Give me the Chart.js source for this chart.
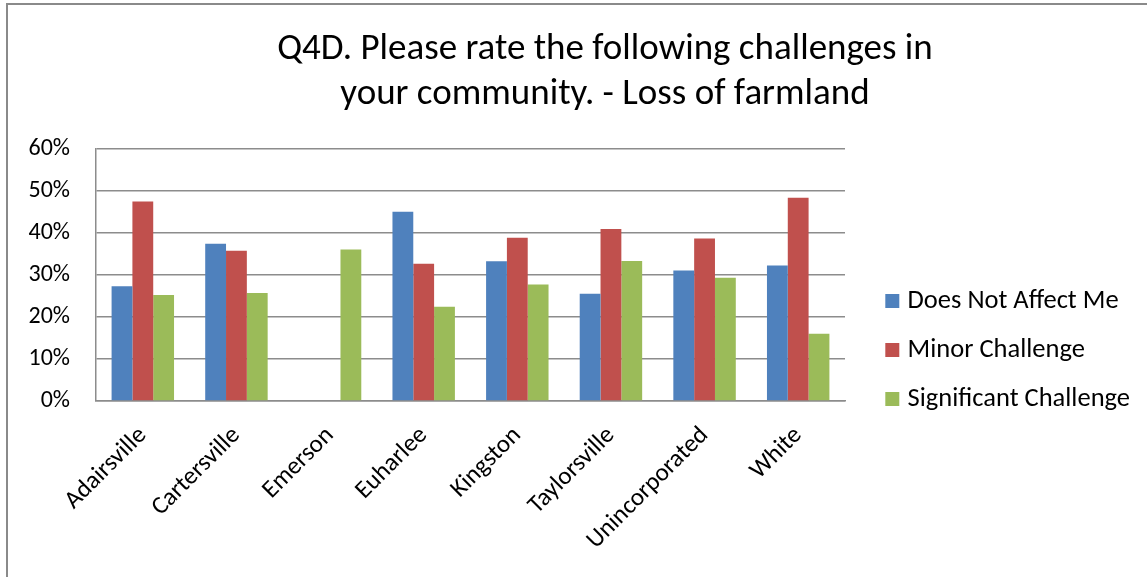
<!DOCTYPE html>
<html lang="en">
<head>
  <meta charset="UTF-8">
  <title>Q4D - Loss of farmland</title>
  <script src="https://cdn.jsdelivr.net/npm/chart.js"></script>
</head>
<style>
  body {
    margin: 0;
    padding: 0;
    background: #fff;
    width: 1147px;
    height: 577px;
    overflow: hidden;
    position: relative;
  }

  /* chart frame, only top and left edges are inside the window */
  .frame {
    position: absolute;
    left: 6px;
    top: 3px;
    width: 1198px;
    height: 690px;
    border: 2px solid #8a8a8a;
    background: #fff;
  }

  .frame canvas {
    display: block;
  }
</style>

<body>
<div class="frame">
  <canvas id="farmChart" width="1198" height="690"></canvas>
</div>

<script>
  const categories = ['Adairsville', 'Cartersville', 'Emerson', 'Euharlee', 'Kingston', 'Taylorsville', 'Unincorporated', 'White'];
  const seriesNames = ['Does Not Affect Me', 'Minor Challenge', 'Significant Challenge'];

  // percent values
  const doesNotAffect = [27.3, 37.4, 0, 45.0, 33.2, 25.5, 31.0, 32.2];
  const minorChallenge = [47.4, 35.7, 0, 32.6, 38.8, 40.9, 38.6, 48.3];
  const significantChallenge = [25.2, 25.7, 36.0, 22.4, 27.7, 33.3, 29.3, 16.0];

  const yTicks = [0, 10, 20, 30, 40, 50, 60];
  const titleLines = ['Q4D. Please rate the following challenges in', 'your community. - Loss of farmland'];

  const colors = ['#4F81BD', '#C0504D', '#9BBB59'];
  const fontFamily = 'Carlito, Lato, sans-serif';
  const gridColor = '#8c8c8c';

  // the title in the original is centred on the whole frame, not the plot,
  // so move its box after layout
  const titleShift = {
    id: 'titleShift',
    afterLayout(chart) {
      const t = chart.titleBlock;
      if (!t) return;
      t.left = 62;
      t.right = 1132;
      t.width = t.right - t.left;
    }
  };

  const ctx = document.getElementById('farmChart').getContext('2d');
  const farmChart = new Chart(ctx, {
    type: 'bar',
    data: {
      labels: categories,
      datasets: [doesNotAffect, minorChallenge, significantChallenge].map((vals, i) => ({
        label: seriesNames[i],
        data: vals,
        backgroundColor: colors[i],
        borderWidth: 0,
        categoryPercentage: 0.667,
        barPercentage: 1.0
      }))
    },
    plugins: [titleShift],
    options: {
      responsive: false,
      animation: false,
      layout: {
        padding: { left: 0, right: 66, top: 0, bottom: 0 }
      },
      plugins: {
        tooltip: { enabled: false },
        title: {
          display: true,
          text: titleLines,
          color: '#000',
          font: { family: fontFamily, size: 37, weight: 'normal', lineHeight: 1.197 },
          padding: { top: 23, bottom: 32 }
        },
        legend: {
          position: 'right',
          maxWidth: 400,
          labels: {
            color: '#000',
            usePointStyle: true,
            pointStyle: 'rect',
            boxWidth: 4,     // narrow slot so the 14px square sits close to the text
            boxHeight: 14,
            padding: 22.5,
            font: { family: fontFamily, size: 26.5 }
          }
        }
      },
      scales: {
        x: {
          grid: { display: false },
          border: { display: true, color: gridColor, width: 1.5 },
          ticks: {
            color: '#000',
            minRotation: 45,
            maxRotation: 45,
            padding: 12,
            font: { family: fontFamily, size: 25 }
          },
          afterFit: (scale) => { scale.height = 294; }
        },
        y: {
          min: yTicks[0],
          max: yTicks[yTicks.length - 1],
          afterBuildTicks: (scale) => { scale.ticks = yTicks.map(v => ({ value: v })); },
          grid: { color: gridColor, lineWidth: 1.5, drawTicks: false },
          border: { display: true, color: gridColor, width: 1.5 },
          ticks: {
            color: '#000',
            padding: 26,
            font: { family: fontFamily, size: 24 },
            callback: (v) => v + '%'
          },
          afterFit: (scale) => { scale.width = 88; }
        },
        // empty axis, only keeps the gap between plot and legend
        gap: {
          position: 'right',
          display: true,
          grid: { display: false },
          border: { display: false },
          ticks: { display: false },
          afterFit: (scale) => {
            const legendW = scale.chart.legend ? scale.chart.legend.width : 0;
            scale.width = Math.max(0, (1198 - 66 - legendW) - 837);
          }
        }
      }
    }
  });
</script>

</body>
</html>
